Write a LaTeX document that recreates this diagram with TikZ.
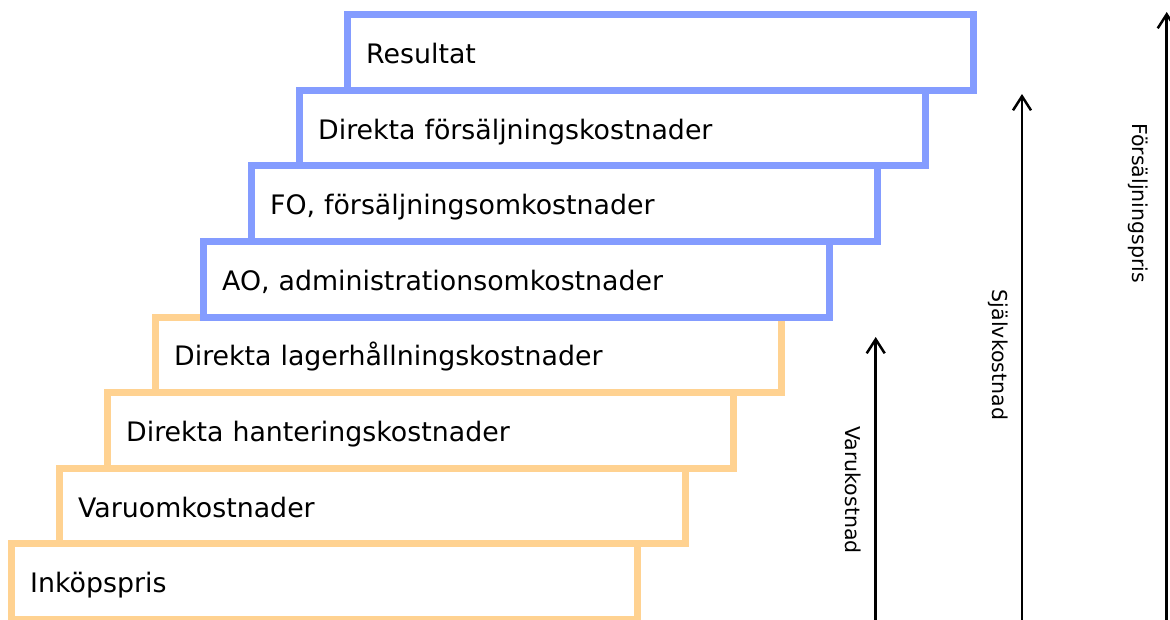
\documentclass[tikz,border=0pt]{standalone}
\usepackage{fontspec}
\setmainfont{DejaVu Sans}
\usetikzlibrary{arrows.meta}

\definecolor{stegorange}{RGB}{255,210,145}
\definecolor{stegblue}{RGB}{132,156,255}

\tikzset{
    stegbox/.style={draw, line width=7pt, fill=white, rectangle,
        minimum width=626pt, minimum height=75.6pt, inner xsep=18.5pt,
        text width=589pt, text height=27pt, text depth=5pt, align=left,
        font=\fontsize{26.8}{30}\selectfont},
    varbox/.style={stegbox, draw=stegorange},
    sjalvbox/.style={stegbox, draw=stegblue},
    sidlabel/.style={rotate=-90, font=\fontsize{20.5}{24}\selectfont},
    pil/.style={line width=2.5pt, -{Straight Barb[length=14pt, width=18pt]}}
}

\begin{document}
\begin{tikzpicture}[x=1pt, y=1pt]
    \useasboundingbox (0, 0) rectangle (1170, -619);
    % varukostnad
    \node[varbox] (inkop) at (324.7, -581.7) {Inköpspris};
    \node[varbox] (varuomk) at (372.7, -506.1) {Varuomkostnader};
    \node[varbox] (hantering) at (420.7, -430.5) {Direkta hanteringskostnader};
    \node[varbox] (lager) at (468.7, -354.9) {Direkta lagerhållningskostnader};
    % självkostnad och försäljningspris
    \node[sjalvbox] (ao) at (516.7, -279.3) {AO, administrationsomkostnader};
    \node[sjalvbox] (fo) at (564.7, -203.7) {FO, försäljningsomkostnader};
    \node[sjalvbox] (forsalj) at (612.7, -128.1) {Direkta försäljningskostnader};
    \node[sjalvbox] (resultat) at (660.7, -52.5) {Resultat};
    % pilar
    \coordinate (varu bas) at (875.7, -625);
    \coordinate (varu topp) at (875.7, -337);
    \coordinate (sjalv bas) at (1022, -625);
    \coordinate (sjalv topp) at (1022, -94);
    \coordinate (pris bas) at (1166.7, -625);
    \coordinate (pris topp) at (1166.7, -12);
    \draw[pil] (varu bas) -- (varu topp);
    \draw[pil] (sjalv bas) -- (sjalv topp);
    \draw[pil] (pris bas) -- (pris topp);
    \node[sidlabel] (varukostnad) at (853, -490) {Varukostnad};
    \node[sidlabel] (sjalvkostnad) at (998, -355) {Självkostnad};
    \node[sidlabel] (pris) at (1138, -203) {Försäljningspris};
\end{tikzpicture}
\end{document}
